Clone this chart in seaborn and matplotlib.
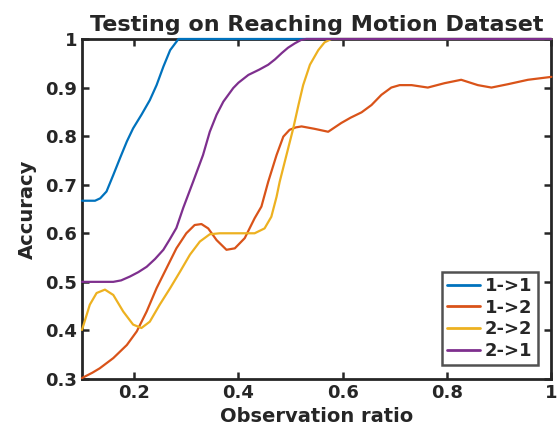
import matplotlib
matplotlib.use("Agg")
import matplotlib.pyplot as plt
import seaborn as sns
import pandas as pd

# ---- data ----
x_11 = [0.10, 0.12, 0.125, 0.135, 0.147, 0.16, 0.173, 0.186, 0.198, 0.214, 0.230, 0.243, 0.256, 0.269, 0.285, 0.30, 1.0]
y_11 = [0.667, 0.667, 0.667, 0.672, 0.686, 0.72, 0.755, 0.789, 0.816, 0.844, 0.874, 0.905, 0.943, 0.977, 1.0, 1.0, 1.0]

x_12 = [0.10, 0.12, 0.134, 0.16, 0.186, 0.205, 0.224, 0.243, 0.262, 0.281, 0.30, 0.316, 0.329, 0.342,
        0.358, 0.377, 0.393, 0.412, 0.431, 0.444, 0.457, 0.473, 0.486, 0.498, 0.51, 0.521, 0.546, 0.572,
        0.597, 0.615, 0.636, 0.655, 0.674, 0.693, 0.709, 0.732, 0.763, 0.795, 0.827, 0.859, 0.885, 0.917,
        0.955, 1.0]
y_12 = [0.302, 0.313, 0.322, 0.343, 0.37, 0.398, 0.439, 0.487, 0.528, 0.569, 0.60, 0.617, 0.619, 0.61,
        0.586, 0.566, 0.569, 0.59, 0.631, 0.655, 0.706, 0.761, 0.799, 0.813, 0.818, 0.82, 0.815, 0.809,
        0.827, 0.838, 0.849, 0.864, 0.885, 0.90, 0.905, 0.905, 0.90, 0.909, 0.916, 0.905, 0.90, 0.907,
        0.916, 0.922]

x_22 = [0.10, 0.115, 0.128, 0.144, 0.16, 0.179, 0.198, 0.214, 0.23, 0.249, 0.269, 0.288, 0.307, 0.326,
        0.345, 0.364, 0.40, 0.431, 0.45, 0.463, 0.473, 0.479, 0.492, 0.505, 0.515, 0.524, 0.537, 0.553,
        0.565, 0.578, 1.0]
y_22 = [0.401, 0.453, 0.477, 0.484, 0.473, 0.439, 0.412, 0.405, 0.418, 0.453, 0.487, 0.521, 0.556, 0.583,
        0.598, 0.60, 0.60, 0.60, 0.61, 0.634, 0.675, 0.706, 0.761, 0.816, 0.864, 0.905, 0.947, 0.977,
        0.993, 1.0, 1.0]

x_21 = [0.10, 0.16, 0.175, 0.192, 0.208, 0.224, 0.24, 0.256, 0.268, 0.281, 0.294, 0.313, 0.332, 0.345,
        0.358, 0.371, 0.39, 0.40, 0.419, 0.44, 0.457, 0.47, 0.483, 0.495, 0.508, 0.52, 0.53, 1.0]
y_21 = [0.5, 0.5, 0.503, 0.511, 0.52, 0.531, 0.547, 0.566, 0.587, 0.611, 0.652, 0.706, 0.761, 0.809,
        0.844, 0.871, 0.899, 0.91, 0.926, 0.937, 0.947, 0.958, 0.971, 0.982, 0.991, 0.998, 1.0, 1.0]

labels = ["1->1", "1->2", "2->2", "2->1"]
colors = ["#0072BD", "#D95319", "#EDB120", "#7E2F8E"]

x_ticks = [0.2, 0.4, 0.6, 0.8, 1.0]
x_tick_labels = ["0.2", "0.4", "0.6", "0.8", "1"]
y_ticks = [0.3, 0.4, 0.5, 0.6, 0.7, 0.8, 0.9, 1.0]
y_tick_labels = ["0.3", "0.4", "0.5", "0.6", "0.7", "0.8", "0.9", "1"]

frames = []
for lab, xs, ys in zip(labels, [x_11, x_12, x_22, x_21], [y_11, y_12, y_22, y_21]):
    frames.append(pd.DataFrame({"ratio": xs, "acc": ys, "series": lab}))
df = pd.concat(frames, ignore_index=True)

sns.set_style("white")
plt.rcParams["font.family"] = ["DejaVu Sans"]
plt.rcParams["font.weight"] = "bold"

fig = plt.figure(figsize=(5.57, 4.41), dpi=100)
ax = fig.add_axes([0.1472, 0.1406, 0.8428, 0.771])

sns.lineplot(data=df, x="ratio", y="acc", hue="series", hue_order=labels,
             palette=colors, linewidth=1.6, ax=ax, sort=False, estimator=None)
for ln in ax.get_lines():
    ln.set_clip_on(False)
    ln.set_zorder(3)

ax.set_xlim(0.1, 1.0)
ax.set_ylim(0.3, 1.0)
ax.set_xticks(x_ticks)
ax.set_xticklabels(x_tick_labels)
ax.set_yticks(y_ticks)
ax.set_yticklabels(y_tick_labels)

ax.tick_params(axis="both", direction="in", length=5, width=1.8, colors="#262626",
               labelsize=13, top=True, right=True, bottom=True, left=True,
               labelcolor="#262626")
for lbl in ax.get_xticklabels() + ax.get_yticklabels():
    lbl.set_fontweight("bold")
for sp in ax.spines.values():
    sp.set_visible(True)
    sp.set_color("#262626")
    sp.set_linewidth(2.0)

ax.set_xlabel("Observation ratio", fontsize=14, fontweight="bold", color="#262626", labelpad=4)
ax.set_ylabel("Accuracy", fontsize=14, fontweight="bold", color="#262626", labelpad=6)
ax.set_title("Testing on Reaching Motion Dataset", fontsize=16, fontweight="bold", pad=6)

leg = ax.legend(loc="lower right", fontsize=13, frameon=True, fancybox=False,
                handlelength=1.8, handletextpad=0.3, borderpad=0.3, labelspacing=0.2,
                borderaxespad=0.75)
leg.get_frame().set_edgecolor("#262626")
leg.get_frame().set_linewidth(1.8)
leg.set_zorder(5)
for t in leg.get_texts():
    t.set_fontweight("bold")
for h in leg.get_lines():
    h.set_linewidth(2.0)

fig.savefig("out.png", dpi=100)
